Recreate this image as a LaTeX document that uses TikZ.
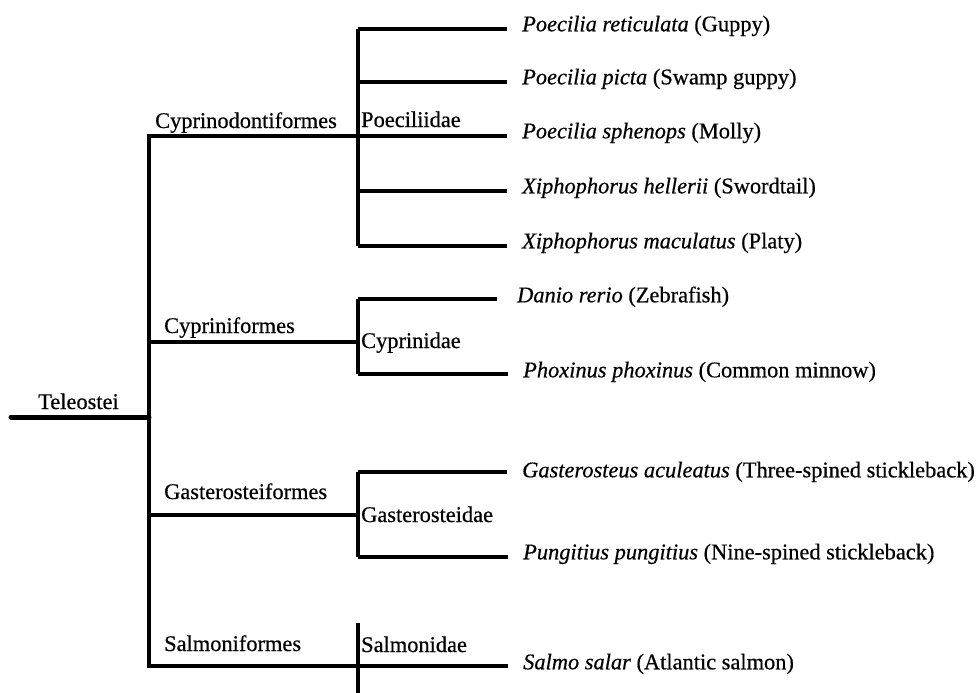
\documentclass[tikz,border=0pt]{standalone}
\usepackage{fontspec}
\setmainfont{Liberation Serif}[UprightFeatures={FakeBold=0.5},ItalicFeatures={FakeBold=0.5}]
\begin{document}
\begin{tikzpicture}[x=1pt,y=-1pt,line join=miter]
\useasboundingbox (0,0) rectangle (977,693);
\tikzset{
  lbl/.style={inner sep=0pt, font=\fontsize{22.4}{26}\selectfont, anchor=base west},
  sp/.style={inner sep=0pt, font=\fontsize{22.4}{26}\selectfont, anchor=mid west},
  br/.style={line width=3.2pt},
  trunk/.style={line width=3.4pt},
  rootline/.style={line width=5pt, line cap=round}
}
% root
\coordinate (r0) at (11,417);
\coordinate (r1) at (149,417);
\node[lbl] (tel) at (38,409) {Teleostei};
% main vertical
\coordinate (mt) at (149,136);
\coordinate (mb) at (149,666);
% orders
\coordinate (o1) at (149,136); \coordinate (f1) at (358,136);
\coordinate (o2) at (149,342); \coordinate (f2) at (358,342);
\coordinate (o3) at (149,515); \coordinate (f3) at (358,515);
\coordinate (o4) at (149,666); \coordinate (f4) at (358,666);
\node[lbl] (n1) at (155,128) {Cyprinodontiformes};
\node[lbl] (n2) at (164,333) {Cypriniformes};
\node[lbl] (n3) at (164,499) {Gasterosteiformes};
\node[lbl] (n4) at (164,651) {Salmoniformes};
% families labels
\node[lbl] (m1) at (361,127) {Poeciliidae};
\node[lbl] (m2) at (361,348) {Cyprinidae};
\node[lbl] (m3) at (361,522) {Gasterosteidae};
\node[lbl] (m4) at (361,652) {Salmonidae};
% family vertical ends
\coordinate (p1) at (358,29);  \coordinate (p2) at (358,82);
\coordinate (p3) at (358,136); \coordinate (p4) at (358,191);
\coordinate (p5) at (358,246);
\coordinate (c1) at (358,299); \coordinate (c2) at (358,374);
\coordinate (g1) at (358,472); \coordinate (g2) at (358,557);
\coordinate (s1) at (358,623); \coordinate (s2) at (358,693);
% species
\node[sp] (a1) at (522,29)  {\textit{Poecilia reticulata} (Guppy)};
\node[sp] (a2) at (522,82)  {\textit{Poecilia picta} (Swamp guppy)};
\node[sp] (a3) at (522,136) {\textit{Poecilia sphenops} (Molly)};
\node[sp] (a4) at (522,191) {\textit{Xiphophorus hellerii} (Swordtail)};
\node[sp] (a5) at (522,246) {\textit{Xiphophorus maculatus} (Platy)};
\node[sp] (b1) at (517,300) {\textit{Danio rerio} (Zebrafish)};
\node[sp] (b2) at (523,375) {\textit{Phoxinus phoxinus} (Common minnow)};
\node[sp] (d1) at (522,475) {\textit{Gasterosteus aculeatus} (Three-spined stickleback)};
\node[sp] (d2) at (523,557) {\textit{Pungitius pungitius} (Nine-spined stickleback)};
\node[sp] (e1) at (523,667) {\textit{Salmo salar} (Atlantic salmon)};
% drawing
\draw[rootline] (r0) -- (r1);
\draw[trunk] (f1) -- (o1) -- (mb) -- (f4);
\draw[br] (o2) -- (f2);
\draw[br] (o3) -- (f3);
\draw[br] (p1) -- (p5);
\draw[br] (c1) -- (c2);
\draw[br] (g1) -- (g2);
\draw[br] (s1) -- (s2);
\foreach \p/\s in {p1/a1,p2/a2,p3/a3,p4/a4,p5/a5,g2/d2}
  \draw[br] (\p) -- ([xshift=-15pt]\s.mid west);
\draw[br] (c1) -- ([xshift=-20pt]b1.mid west |- c1);
\draw[br] (c2) -- ([xshift=-15pt]b2.mid west |- c2);
\draw[br] (g1) -- ([xshift=-15pt]d1.mid west |- g1);
\draw[br] (f4) -- ([xshift=-15pt]e1.mid west |- f4);
\end{tikzpicture}
\end{document}
